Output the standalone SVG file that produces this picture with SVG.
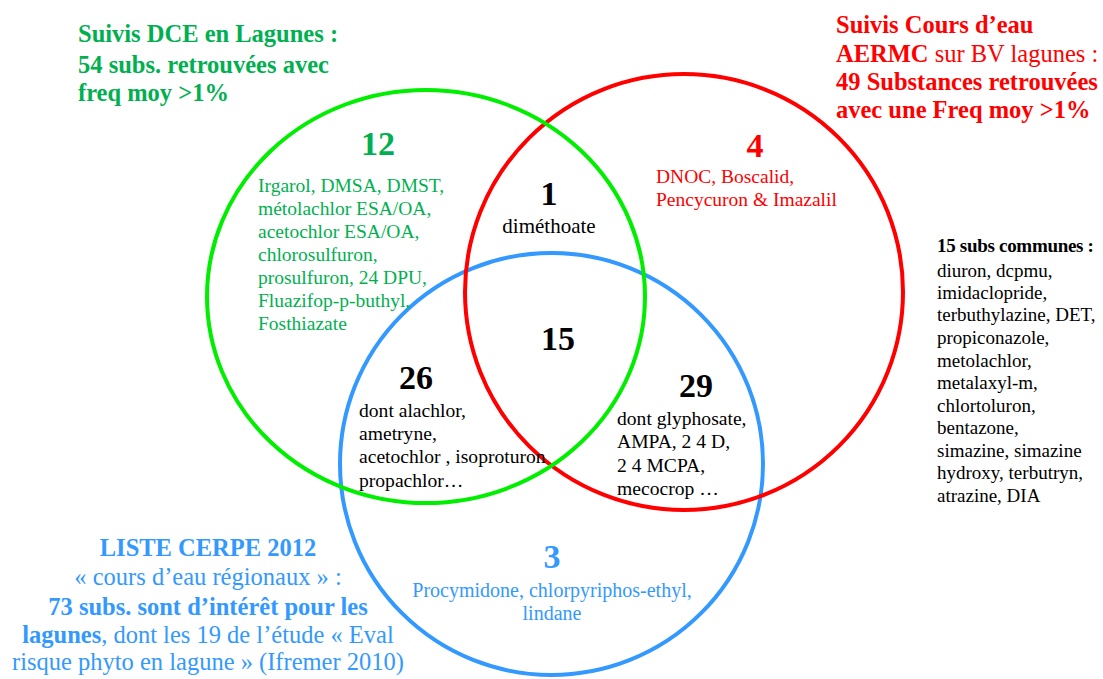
<svg xmlns="http://www.w3.org/2000/svg" width="1103" height="679" viewBox="0 0 1103 679">
<style>
text{font-family:"Liberation Serif","Times New Roman",serif}
.ring{fill:none;stroke-width:4}
.title{font-size:24.5px}
.b{font-weight:bold}
.num{font-size:34px;font-weight:bold;text-anchor:middle}
.list{font-size:19.5px}
.blk{fill:#000}
.grn{fill:#00B050}
.red{fill:#FF0000}
.blu{fill:#3399FF}
.mid{text-anchor:middle}
</style>
<rect width="1103" height="679" fill="#fff"/>
<g id="set-cerpe">
<ellipse class="ring" cx="551.5" cy="464" rx="211.5" ry="211" stroke="#3399FF"/>
<text class="title blu mid" x="208" y="556"><tspan class="b">LISTE CERPE 2012</tspan><tspan x="208" y="585">« cours d’eau régionaux » :</tspan><tspan x="208" y="615" class="b">73 subs. sont d’intérêt pour les</tspan><tspan x="208" y="643"><tspan class="b">lagunes</tspan>, dont les 19 de l’étude « Eval</tspan><tspan x="208" y="670">risque phyto en lagune » (Ifremer 2010)</tspan></text>
</g>
<g id="set-aermc">
<ellipse class="ring" cx="684" cy="292" rx="219" ry="218" stroke="#FF0000"/>
<text class="title red" x="836" y="33"><tspan class="b">Suivis Cours d’eau</tspan><tspan x="836" y="62"><tspan class="b">AERMC</tspan> sur BV lagunes :</tspan><tspan x="836" y="90" class="b">49 Substances retrouvées</tspan><tspan x="836" y="118" class="b">avec une Freq moy &gt;1%</tspan></text>
</g>
<g id="set-dce">
<ellipse class="ring" cx="426" cy="296.5" rx="219" ry="206.5" stroke="#00EE00"/>
<text class="title grn b" x="78" y="42">Suivis DCE  en Lagunes :<tspan x="78" y="73">54 subs.  retrouvées avec</tspan><tspan x="78" y="101">freq moy &gt;1%</tspan></text>
</g>
<g id="region-dce-only">
<text class="num grn" x="378" y="155">12</text>
<text class="list grn" x="258" y="192">Irgarol, DMSA, DMST,<tspan x="258" y="215">métolachlor ESA/OA,</tspan><tspan x="258" y="238">acetochlor ESA/OA,</tspan><tspan x="258" y="261">chlorosulfuron,</tspan><tspan x="258" y="284">prosulfuron, 24 DPU,</tspan><tspan x="258" y="307">Fluazifop-p-buthyl,</tspan><tspan x="258" y="330">Fosthiazate</tspan></text>
</g>
<g id="region-dce-aermc">
<text class="num blk" x="549" y="205">1</text>
<text class="blk mid" x="549" y="233" font-size="21">diméthoate</text>
</g>
<g id="region-aermc-only">
<text class="num red" x="755" y="157">4</text>
<text class="list red" x="656" y="183">DNOC, Boscalid,<tspan x="656" y="206">Pencycuron &amp; Imazalil</tspan></text>
</g>
<g id="region-all">
<text class="num blk" x="558" y="350">15</text>
</g>
<g id="region-dce-cerpe">
<text class="num blk" x="416" y="389">26</text>
<text class="blk" font-size="19.6" x="359" y="417">dont alachlor,<tspan x="359" y="440">ametryne,</tspan><tspan x="359" y="463">acetochlor , isoproturon</tspan><tspan x="359" y="487">propachlor…</tspan></text>
</g>
<g id="region-aermc-cerpe">
<text class="num blk" x="696" y="397">29</text>
<text class="blk" font-size="19.6" x="617" y="425">dont glyphosate,<tspan x="617" y="448">AMPA, 2 4 D,</tspan><tspan x="617" y="472">2 4 MCPA,</tspan><tspan x="617" y="495">mecocrop …</tspan></text>
</g>
<g id="region-cerpe-only">
<text class="num blu" x="552" y="568">3</text>
<text class="blu mid" font-size="20" x="552" y="597">Procymidone, chlorpyriphos-ethyl,<tspan x="552" y="620">lindane</tspan></text>
</g>
<g id="common-list">
<text class="blk" x="937" y="252" font-size="19" font-weight="bold" letter-spacing="-0.3">15 subs communes :</text>
<text class="blk" font-size="19" x="937" y="277">diuron, dcpmu,<tspan x="937" y="299">imidaclopride,</tspan><tspan x="937" y="321">terbuthylazine, DET,</tspan><tspan x="937" y="344">propiconazole,</tspan><tspan x="937" y="367">metolachlor,</tspan><tspan x="937" y="389">metalaxyl-m,</tspan><tspan x="937" y="412">chlortoluron,</tspan><tspan x="937" y="434">bentazone,</tspan><tspan x="937" y="457">simazine, simazine</tspan><tspan x="937" y="479">hydroxy, terbutryn,</tspan><tspan x="937" y="502">atrazine, DIA</tspan></text>
</g>
</svg>
